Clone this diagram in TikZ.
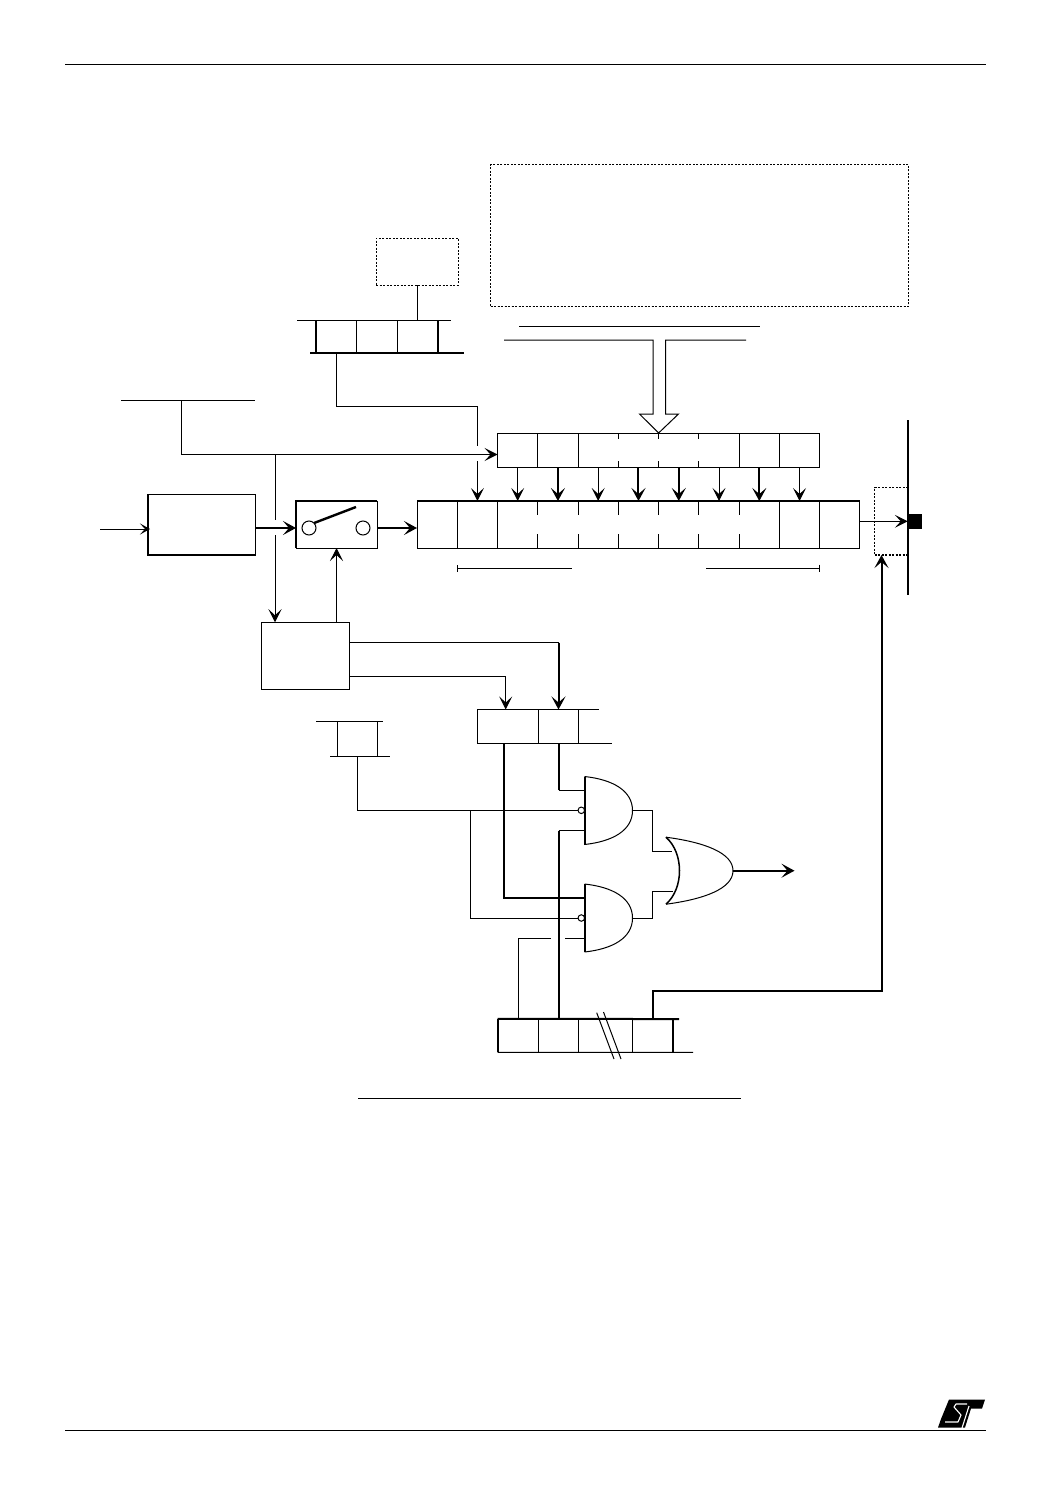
\documentclass[tikz,border=0pt]{standalone}
\usepackage{xcolor}
\usepackage{tikz}
\usetikzlibrary{arrows.meta,positioning,fit}
\tikzset{
  wire/.style={line width=1pt, draw=black},
  heavy/.style={line width=2pt, draw=black},
  dashbox/.style={rectangle, draw=black, line width=1pt, dash pattern=on 2pt off 1.5pt, inner sep=0pt, outer sep=0pt},
  plainbox/.style={rectangle, draw=black, line width=1pt, inner sep=0pt, outer sep=0pt},
  cell/.style={rectangle, inner sep=0pt, outer sep=0pt, minimum width=40.27},
  lowcell/.style={cell, minimum height=47},
  upcell/.style={cell, minimum height=34},
  arrow/.style={wire, -{Stealth[length=13pt,width=13pt,inset=6pt]}},
  heavyarrow/.style={heavy, -{Stealth[length=13pt,width=14pt,inset=6pt]}},
  smallarrow/.style={wire, -{Stealth[length=10pt,width=11pt,inset=5pt]}},
  gatebody/.style={rectangle, inner sep=0pt, outer sep=0pt, minimum width=48, minimum height=68},
  bubble/.style={circle, draw=black, line width=1pt, fill=white, inner sep=0pt, outer sep=0pt, minimum size=6.5},
  contact/.style={circle, draw=black, line width=1pt, fill=white, inner sep=0pt, outer sep=0pt, minimum size=14}
}
\begin{document}
\begin{tikzpicture}[x=1pt,y=-1pt]
  \useasboundingbox (0,0) rectangle (1048,1488);

  % page rules and logo
  \coordinate (headL) at (65,65);
  \coordinate (headR) at (986,65);
  \coordinate (footL) at (65,1430);
  \coordinate (footR) at (986,1430);
  \coordinate (capL) at (358,1098);
  \coordinate (capR) at (741,1098);
  \draw[wire] (headL) -- (headR);
  \draw[wire] (footL) -- (footR);
  \draw[wire] (capL) -- (capR);
  \fill (949,1399.5) -- (985,1399.5) -- (982,1408.5) -- (971,1408.5) -- (965,1427.5) -- (938,1427.5) -- (941,1419) -- cycle;
  \draw[white, line width=1.1pt, line join=round] (967,1404) -- (956,1404) -- (954,1407) -- (961,1415) -- (958,1422) -- (945,1422);
  \draw[white, line width=1.1pt] (969,1406) -- (962,1428);

  % dashed blocks
  \node[dashbox, minimum width=418, minimum height=141.5] (core) at (699.5,235.5) {};
  \draw[dash pattern=on 2pt off 1.5pt, line width=1.5pt] (core.south west) -- (core.south east) -- (core.north east);
  \node[dashbox, minimum width=82, minimum height=47] (psc) at (417,261.5) {};

  % top register
  \foreach \i in {1,2,3}
    \node[cell, minimum width=40.5, minimum height=33] (ctl\i) at ({316+40.5*(\i-.5)},336.5) {};
  \draw[wire] (297,320) -- (451,320);
  \draw[heavy] (310,353) -- (464,353);
  \draw[wire] (ctl1.north east) -- (ctl1.south east);
  \draw[wire] (ctl2.north east) -- (ctl2.south east);
  \draw[line width=1.5pt] (ctl1.north west) -- (ctl1.south west);
  \draw[heavy] (ctl3.north east) -- (ctl3.south east);
  \draw[wire] (psc.south) -- (psc.south |- ctl3.north);

  % lines over the bus
  \coordinate (busA) at (519,326);
  \coordinate (busB) at (760,326);
  \draw[wire] (busA) -- (busB);

  % upper register
  \foreach \i in {1,...,8}
    \node[upcell] (up\i) at ({497.54+40.27*(\i-.5)},450) {};
  \draw[wire] (up1.north west) rectangle (up8.south east);
  \foreach \i in {1,2,6,7}
    \draw[wire] (up\i.north east) -- (up\i.south east);
  \foreach \i in {3,4,5} {
    \draw[wire] (up\i.north east) -- ++(0,6);
    \draw[wire] (up\i.south east) -- ++(0,-6);
  }

  % lower register
  \foreach \i in {1,...,11}
    \node[lowcell] (low\i) at ({417+40.27*(\i-.5)},524.5) {};
  \draw[wire] (low1.north west) rectangle (low11.south east);
  \draw[heavy] (low1.north west) -- (low11.north east);
  \foreach \i in {1,2,9,10}
    \draw[wire] (low\i.north east) -- (low\i.south east);
  \foreach \i in {3,...,8} {
    \draw[wire] (low\i.north east) -- ++(0,14);
    \draw[wire] (low\i.south east) -- ++(0,-14);
  }

  % loading arrows
  \foreach \i/\k in {1/arrow,2/heavyarrow,3/arrow,4/heavyarrow,5/heavyarrow,6/arrow,7/heavyarrow,8/arrow}
    \draw[\k] (up\i.south) -- (low1.north -| up\i.south);

  % hollow bus arrow
  \draw[wire, line join=miter] (504,340) -- (653,340) -- (653,414) -- (639.5,414) -- (up4.north east) -- (678.5,414) -- (665.5,414) -- (665.5,340) -- (746,340);

  % brackets below register
  \coordinate (brA) at (low2.south west |- 0,568);
  \coordinate (brB) at (571.5,568);
  \coordinate (brC) at (706,568);
  \coordinate (brD) at (low10.south east |- 0,568);
  \draw[wire, |-] (brA) -- (brB);
  \draw[wire, -|] (brC) -- (brD);

  % clock path
  \node[plainbox, minimum width=107.5, minimum height=61] (prescaler) at (202,524.5) {};
  \draw[heavy] (prescaler.north west) -- (prescaler.south west) -- (prescaler.south east);
  \node[plainbox, minimum width=81, minimum height=47] (switch) at (336.5,524.5) {};
  \draw[heavy] (switch.south west) -- (switch.north west) -- (switch.north east);
  \node[contact] (swA) at (309,528) {};
  \node[contact] (swB) at (363,528) {};
  \coordinate (swTip) at (356,507);
  \draw[line width=2.4pt] (swA.north east) -- (swTip);
  \node[plainbox, minimum width=88.5, minimum height=67.5] (ctrl) at (305.5,656) {};

  \coordinate (clkIn) at (100,529);
  \coordinate (clkEnd) at (150,529);
  \draw[smallarrow] (clkIn) -- (clkEnd);
  \draw[heavyarrow] (prescaler.east |- swA) -- (switch.west |- swA);
  \draw[heavyarrow] (switch.east |- swA) -- (low1.west |- swA);
  \draw[arrow] (ctrl.north -| switch.south) -- (switch.south);

  % system clock feed
  \coordinate (fckA) at (121,400);
  \coordinate (fckB) at (255,400);
  \coordinate (fckT) at (181.7,400);
  \coordinate (fckJ) at (275,454.5);
  \coordinate (fckU) at (275,520);
  \coordinate (fckV) at (275,535);
  \draw[wire] (fckA) -- (fckB);
  \draw[arrow] (fckT) |- (up1.west |- fckJ);
  \draw[wire] (fckJ) -- (fckU);
  \draw[arrow] (fckV) -- (ctrl.north -| fckV);

  % prescaler reload feed
  \coordinate (relA) at (low2.north |- 0,406);
  \coordinate (relB) at (low2.north |- 0,446);
  \coordinate (relC) at (low2.north |- 0,461);
  \draw[wire] (ctl1.south) |- (relA) -- (relB);
  \draw[arrow] (relC) -- (low2.north);

  % output pin
  \coordinate (barT) at (908,420);
  \coordinate (barB) at (908,595);
  \draw[line width=2.4pt] (barT) -- (barB);
  \node[rectangle, fill=black, inner sep=0pt, minimum width=14, minimum height=14.5] (pin) at (915,521.3) {};
  \draw[dash pattern=on 2pt off 1.5pt, line width=1pt] (908,487.5) -- (874.5,487.5) -- (874.5,555);
  \draw[dash pattern=on 2pt off 1.5pt, line width=2pt] (874.5,555) -- (908,555);
  \coordinate (pad) at (881.5,555);
  \draw[arrow] (low11.east |- pin) -- (pin.west);

  % status register
  \foreach \i/\x/\w in {1/477.5/61,2/538.5/40}
    \node[cell, minimum width=\w, minimum height=34] (st\i) at ({\x+\w/2},726.5) {};
  \coordinate (stA) at (598.5,709.5);
  \coordinate (stB) at (611.5,743.5);
  \draw[wire] (stB) -- (st1.south west) -- (st1.north west) -- (stA);
  \draw[wire] (st1.north east) -- (st1.south east);
  \draw[wire] (st2.north east) -- (st2.south east);
  \coordinate (stTurn) at (st2.north |- 0,642.5);
  \coordinate (ifA) at (505.7,709.5);
  \draw[wire] (ctrl.east |- stTurn) -- (stTurn);
  \draw[heavyarrow] (stTurn) -- (st2.north);
  \draw[arrow] (ctrl.east |- 0,676) -| (ifA);

  % mask register
  \node[cell, minimum width=40, minimum height=35] (mask) at (357,738.5) {};
  \draw[wire] (316,721) -- (383,721);
  \draw[wire] (330,756) -- (390,756);
  \draw[wire] (mask.north west) -- (mask.south west);
  \draw[wire] (mask.north east) -- (mask.south east);

  % gates
  \node[gatebody] (andA) at (608.5,810.5) {};
  \node[gatebody] (andB) at (608.5,918) {};
  \node[gatebody, minimum width=67, minimum height=67] (orgate) at (699.5,870.7) {};
  \foreach \g in {andA,andB} {
    \draw[wire] (\g.north west) .. controls +(28,3) and +(0,-20) .. (\g.east) .. controls +(0,20) and +(28,-3) .. (\g.south west);
    \draw[heavy] (\g.north west) -- (\g.south west);
  }
  \draw[wire] (orgate.north west) .. controls +(38,5) and +(0,-18) .. (orgate.east) .. controls +(0,18) and +(38,-5) .. (orgate.south west);
  \draw[line width=1.5pt] (orgate.north west) .. controls +(18,16) and +(18,-16) .. (orgate.south west);
  \node[bubble] (bubA) at (581.3,810.3) {};
  \node[bubble] (bubB) at (581.3,918) {};

  % bottom register
  \foreach \i/\x/\w in {1/497.7/41,2/538.7/40,3/578.7/53.6,4/632.3/40.4}
    \node[cell, minimum width=\w, minimum height=33.3] (ie\i) at ({\x+\w/2},1035.6) {};
  \coordinate (ieA) at (679,1019);
  \coordinate (ieB) at (693,1052.3);
  \draw[heavy] (ie1.north west) -- (ieA);
  \draw[wire] (ie1.south west) -- (ieB);
  \draw[heavy] (ie1.north west) -- (ie1.south west);
  \draw[heavy] (ie4.north east) -- (ie4.south east);
  \foreach \i in {1,2,3}
    \draw[wire] (ie\i.north east) -- (ie\i.south east);
  \draw[wire] (596.7,1012.7) -- (614,1059);
  \draw[wire] (603.5,1012) -- (621,1059);

  % gate inputs
  \coordinate (andAa) at ([yshift=20.5pt]andA.west);
  \coordinate (andAc) at ([yshift=-20.2pt]andA.west);
  \coordinate (andBa) at ([yshift=20pt]andB.west);
  \coordinate (andBc) at ([yshift=-20.7pt]andB.west);
  \coordinate (topDrop) at (503.7,743.5);
  \coordinate (tapB) at (470.7,810.3);
  \coordinate (gapA) at (565,938.7);
  \coordinate (gapB) at (550.7,938.7);
  \draw[heavy] (st2.south) -- (st2.south |- andAa);
  \draw[wire] (st2.south |- andAa) -- (andAa);
  \draw[wire] (mask.south) |- (bubA.west);
  \draw[wire] (tapB) |- (bubB.west);
  \draw[heavy] (topDrop) |- (andBa);
  \draw[heavy] (ie2.north) -- (ie2.north |- andAc);
  \draw[wire] (ie2.north |- andAc) -- (andAc);
  \draw[wire] (andBc) -- (gapA);
  \draw[wire] (gapB) -| (ie1.north);

  % gate outputs
  \coordinate (orA) at (672,851.7);
  \coordinate (orB) at (672.7,891.7);
  \coordinate (orOut) at (794.5,870.7);
  \draw[wire] (andA.east) -| (652.3,851.7) -- (orA);
  \draw[wire] (andB.east) -| (652.3,891.7) -- (orB);
  \draw[heavyarrow] (orgate.east) -- (orOut);

  % timer output enable
  \draw[heavyarrow] (ie4.north) |- (pad |- 0,991) -- (pad);
\end{tikzpicture}
\end{document}
